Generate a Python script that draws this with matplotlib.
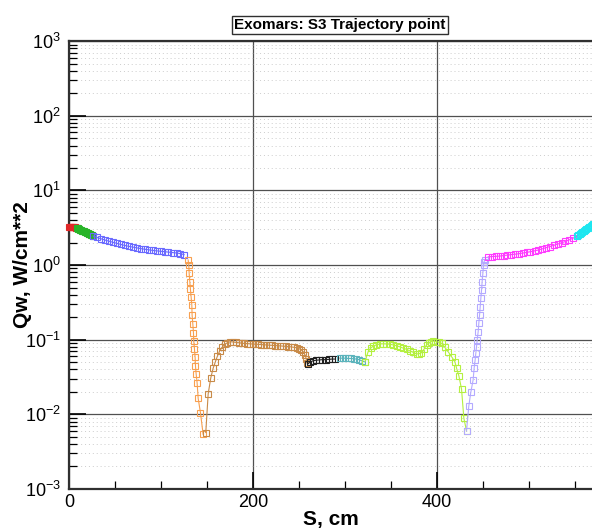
import numpy as np
import matplotlib
matplotlib.use('Agg')
import matplotlib.pyplot as plt
from matplotlib.ticker import LogLocator, MultipleLocator, NullFormatter

plt.rcParams['font.family'] = ['Liberation Sans', 'DejaVu Sans']
plt.rcParams['mathtext.default'] = 'regular'

# heat flux along the surface coordinate, one array pair per zone
red_s = [0, 1, 2, 3, 4, 5, 6, 7, 8]
red_q = [3.25, 3.25, 3.24, 3.23, 3.22, 3.21, 3.19, 3.17, 3.15]

green_s = [8, 9, 10, 11, 12, 13, 14, 15, 16, 17, 18, 19, 20, 21, 22, 23, 24, 25, 26]
green_q = [3.15, 3.11, 3.06, 3.02, 2.98, 2.94, 2.90, 2.86, 2.82, 2.78,
           2.75, 2.71, 2.67, 2.64, 2.60, 2.57, 2.53, 2.50, 2.46]

blue_s = [26, 30, 34.5, 39, 43, 47.5, 52, 56, 60.5, 65, 69, 73.5, 78, 82,
          86.5, 91, 95, 99.5, 104, 108, 112.5, 117, 121, 125]
blue_q = [2.45, 2.35, 2.25, 2.16, 2.09, 2.02, 1.95, 1.89, 1.83, 1.78, 1.74,
          1.70, 1.66, 1.63, 1.60, 1.57, 1.55, 1.53, 1.51, 1.49, 1.47, 1.45,
          1.42, 1.38]

orange_s = [129.4, 130.1, 130.5, 131.2, 131.9, 132.6, 133.4, 133.7, 134.5,
            135.2, 135.5, 136.3, 137.0, 137.4, 138.1, 139.2, 140.3, 142.8, 145.7]
orange_q = [1.17, 1.0, 0.774, 0.598, 0.472, 0.377, 0.292, 0.214, 0.162, 0.124,
            0.097, 0.0743, 0.058, 0.0445, 0.0348, 0.0261, 0.0164, 0.0105, 0.0054]

brown_s = [148.6, 151.2, 154.1, 156.6, 159.1, 161.3, 163.9, 166.4, 169.3,
           172.2, 175.5, 178.5, 181.5, 184.5, 187.5, 190.5, 193.5, 196.5,
           199.5, 202.5, 205.5, 208.5, 211.5, 214.5, 217.5, 220.5, 223.5,
           226.5, 229.5, 232.5, 235.5, 238.5, 241.5, 244.5, 247.5, 250,
           252.5, 254.5, 256.5, 258, 259]
brown_q = [0.0057, 0.0188, 0.031, 0.0414, 0.0508, 0.0605, 0.0713, 0.079,
           0.0867, 0.0912, 0.094, 0.093, 0.092, 0.091, 0.090, 0.089, 0.0885,
           0.088, 0.0875, 0.087, 0.0865, 0.086, 0.0855, 0.085, 0.0845, 0.084,
           0.0835, 0.083, 0.0825, 0.082, 0.0815, 0.081, 0.080, 0.079, 0.078,
           0.076, 0.073, 0.069, 0.063, 0.055, 0.048]

black_s = [259.5, 262, 265, 268.5, 272, 275.5, 279, 282.5, 286, 289]
black_q = [0.047, 0.050, 0.052, 0.053, 0.0535, 0.054, 0.054, 0.0545, 0.055, 0.055]

teal_s = [294.5, 297.5, 300.5, 303.5, 306.5, 309.5, 312.5, 315.5, 318.5, 321.5]
teal_q = [0.0565, 0.0565, 0.0565, 0.056, 0.056, 0.0555, 0.055, 0.054, 0.052, 0.0505]

lime_s = [322, 325.3, 328, 330.8, 334, 338, 341.5, 345.3, 349, 352.5, 356.2,
          360, 363.5, 367.1, 370.5, 374, 378, 381, 383.4, 386, 388.9, 391.5,
          394, 396.1, 399.8, 402.5, 405.2, 408.8, 412.4, 416.1, 419.7, 421.6,
          424.1, 427, 429.5, 432.4]
lime_q = [0.051, 0.069, 0.077, 0.082, 0.085, 0.0876, 0.088, 0.0876, 0.087,
          0.085, 0.083, 0.080, 0.077, 0.0743, 0.071, 0.068, 0.0644, 0.065,
          0.067, 0.074, 0.085, 0.090, 0.094, 0.096, 0.094, 0.092, 0.0895,
          0.079, 0.069, 0.0593, 0.0508, 0.0414, 0.0327, 0.0217, 0.00887, 0.006]

lavender_s = [432.4, 434.9, 437.1, 439.6, 440.7, 441.8, 442.6, 443.3, 444,
              445.1, 445.8, 446.6, 447.3, 448, 448.8, 449.4, 450.2, 450.9,
              451.5, 452.2]
lavender_q = [0.006, 0.0129, 0.0198, 0.0289, 0.0414, 0.0535, 0.067, 0.0805,
              0.099, 0.128, 0.166, 0.214, 0.277, 0.358, 0.463, 0.598, 0.774,
              1.0, 1.1, 1.17]

magenta_s = [456, 460, 464.5, 468.5, 473, 477, 481, 485.5, 489.5, 494, 498,
             502, 506.5, 510.5, 515, 519, 523, 527.5, 531.5, 536, 540, 544,
             548.5, 552.5]
magenta_q = [1.29, 1.30, 1.31, 1.32, 1.34, 1.36, 1.38, 1.40, 1.42, 1.45, 1.48,
             1.51, 1.55, 1.59, 1.65, 1.71, 1.77, 1.84, 1.91, 1.99, 2.07, 2.17,
             2.30, 2.44]

cyan_s = [552.5, 554, 555.5, 557, 558.5, 560, 561.5, 563, 564.5, 566, 567.5,
          569, 570.5, 572]
cyan_q = [2.44, 2.52, 2.60, 2.68, 2.76, 2.84, 2.93, 3.02, 3.11, 3.20, 3.30,
          3.40, 3.50, 3.60]

zones = [
    (red_s, red_q, '#e02828'),
    (green_s, green_q, '#28b428'),
    (blue_s, blue_q, '#6a6aff'),
    (orange_s, orange_q, '#f8a050'),
    (brown_s, brown_q, '#c88a48'),
    (black_s, black_q, '#202020'),
    (teal_s, teal_q, '#5cb4bc'),
    (lime_s, lime_q, '#b4f040'),
    (lavender_s, lavender_q, '#b4aaff'),
    (magenta_s, magenta_q, '#ff3cff'),
    (cyan_s, cyan_q, '#1ee6f0'),
]

fig = plt.figure(figsize=(5.92, 5.28), dpi=100)
ax = fig.add_axes([0.117, 0.074, 0.883, 0.848])

for s, q, c in zones:
    ax.plot(s, q, color=c, lw=0.8, marker='s', ms=4.5, mfc='none',
            mec=c, mew=0.8, clip_on=False, zorder=3)

ax.set_yscale('log')
ax.set_xlim(0, 569)
ax.set_ylim(1e-3, 1e3)
ax.xaxis.set_major_locator(MultipleLocator(200))
ax.xaxis.set_minor_locator(MultipleLocator(50))
ax.yaxis.set_major_locator(LogLocator(base=10, numticks=10))
ax.yaxis.set_minor_locator(LogLocator(base=10, subs=np.arange(2, 10), numticks=20))
ax.yaxis.set_minor_formatter(NullFormatter())

ax.grid(which='major', color='#505050', lw=0.9, ls='-')
ax.grid(which='minor', axis='y', color='#cccccc', lw=0.7, ls=(0, (1, 3)))
ax.set_axisbelow(True)

ax.tick_params(which='both', direction='in', labelsize=13, top=False, right=False)
ax.tick_params(which='major', length=12, width=1.2)
ax.tick_params(which='minor', length=6, width=0.9)
ax.tick_params(axis='x', pad=4)
ax.tick_params(axis='y', pad=6)

for side in ['left', 'bottom', 'top']:
    ax.spines[side].set_linewidth(1.6)
    ax.spines[side].set_color('#303030')
ax.spines['right'].set_visible(False)

ax.set_xlabel('S, cm', fontsize=15, fontweight='bold')
ax.set_ylabel('Qw, W/cm**2', fontsize=15, fontweight='bold')
ax.xaxis.set_label_coords(0.5, -0.048)
ax.yaxis.set_label_coords(-0.072, 0.5)

fig.text(340 / 592, 1 - 25 / 528, 'Exomars: S3 Trajectory point',
         fontsize=11, fontweight='bold', ha='center', va='center',
         bbox=dict(boxstyle='square,pad=0.15', fc='white', ec='#303030', lw=1))

plt.savefig('out.png', dpi=100)
plt.close(fig)
